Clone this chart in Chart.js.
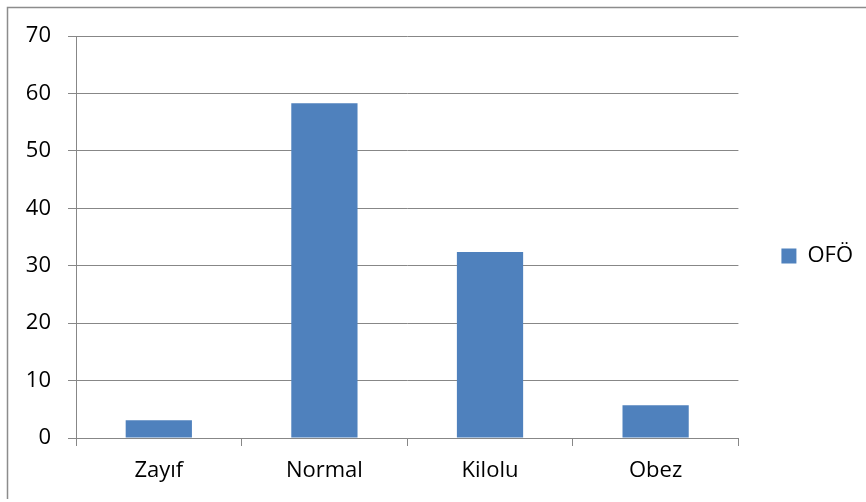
<!DOCTYPE html>
<html lang="tr">
<head>
<meta charset="UTF-8">
<title>OFÖ</title>
<script src="https://cdn.jsdelivr.net/npm/chart.js"></script>
<style>
  html, body { margin: 0; padding: 0; background: #fff; }
  #wrap { width: 866px; height: 502px; }
</style>
</head>
<body>
<div id="wrap"><canvas id="myChart" width="866" height="502"></canvas></div>
<script>
// values
const categories = ['Zayıf', 'Normal', 'Kilolu', 'Obez'];
const seriesName = 'OFÖ';
const seriesValues = [3.1, 58.3, 32.4, 5.7];
const yTicks = [0, 10, 20, 30, 40, 50, 60, 70];

const axisGray = '#878787';
const font = { family: '"Open Sans", sans-serif', size: 22 };

// outer frame, only top and left edges are visible in the crop
const framePlugin = {
    id: 'frame',
    afterDraw(chart) {
        const c = chart.ctx;
        c.save();
        c.strokeStyle = '#8c8c8c';
        c.lineWidth = 1.5;
        c.beginPath();
        c.moveTo(7.5, 499);
        c.lineTo(7.5, 7.5);
        c.lineTo(866, 7.5);
        c.stroke();
        c.restore();
    }
};

const ctx = document.getElementById('myChart').getContext('2d');
new Chart(ctx, {
    type: 'bar',
    data: {
        labels: categories,
        datasets: [{
            label: seriesName,
            data: seriesValues,
            backgroundColor: '#4F81BD',
            borderWidth: 0,
            categoryPercentage: 1,
            barPercentage: 0.4
        }]
    },
    options: {
        responsive: false,
        animation: false,
        layout: { padding: { left: 0, top: 10, right: 3, bottom: 0 } },
        plugins: {
            // empty spacer above the plot only, so the legend stays centred
            title: {
                display: true,
                text: ' ',
                fullSize: false,
                padding: 0,
                font: { size: 26, lineHeight: 1 }
            },
            legend: {
                position: 'right',
                labels: {
                    boxWidth: 15,
                    boxHeight: 15,
                    padding: 43,
                    color: '#000',
                    font: font
                }
            },
            tooltip: { enabled: false }
        },
        scales: {
            x: {
                grid: {
                    offset: true,
                    drawOnChartArea: false,
                    drawTicks: true,
                    tickLength: 8,
                    color: axisGray
                },
                border: { display: true, color: axisGray, width: 1 },
                ticks: { color: '#000', font: font, padding: 12 },
                afterFit(scale) { scale.height = 64; }
            },
            y: {
                min: 0,
                max: 70,
                afterBuildTicks(scale) {
                    scale.ticks = yTicks.map(v => ({ value: v }));
                },
                grid: {
                    drawTicks: true,
                    tickLength: 8,
                    color: axisGray
                },
                border: { display: true, color: axisGray, width: 1 },
                ticks: { color: '#000', font: font, padding: 17 },
                afterFit(scale) { scale.width = 76; }
            }
        }
    },
    plugins: [framePlugin]
});
</script>
</body>
</html>
